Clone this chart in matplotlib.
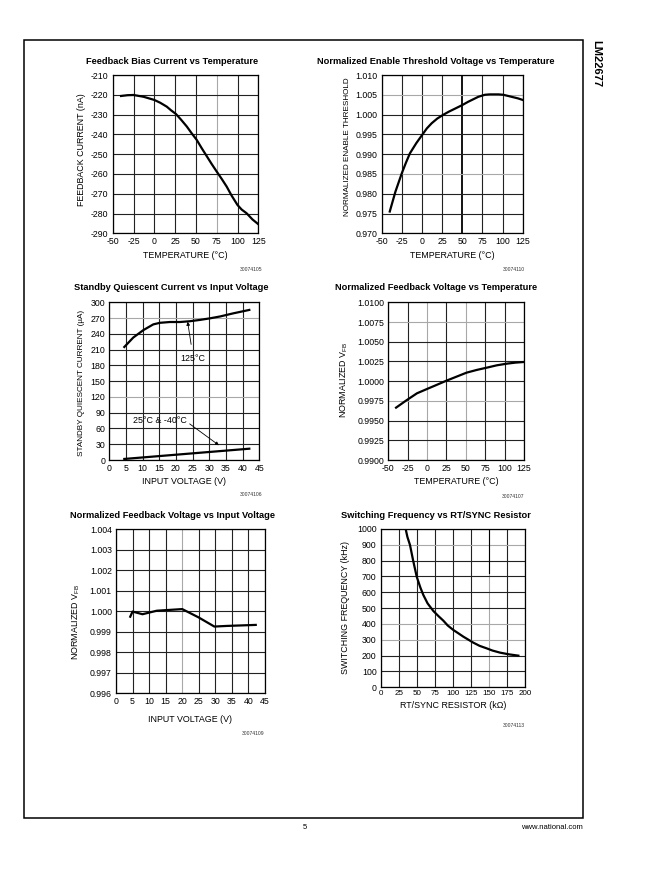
import matplotlib
matplotlib.use("Agg")
import matplotlib.pyplot as plt
from matplotlib.patches import Rectangle
import numpy as np

plt.rcParams['font.family'] = ['Liberation Sans', 'DejaVu Sans']
plt.rcParams['mathtext.fontset'] = 'custom'
plt.rcParams['mathtext.rm'] = 'Liberation Sans'
plt.rcParams['axes.unicode_minus'] = False

# ---------------- data ----------------
fb_temp = [-40, -32, -25, -13, 0, 7, 15, 20, 26, 32, 39, 45, 51, 57, 63, 69, 75,
           81, 87, 93, 100, 105, 111, 118, 125]
fb_current = [-220.6, -220.2, -220.1, -221.0, -222.6, -224.0, -226.0, -227.8, -229.7,
              -232.5, -236.0, -239.5, -242.8, -247.0, -251.0, -255.0, -258.8,
              -262.5, -266.4, -271.0, -275.7, -278.0, -279.9, -283.0, -285.4]

en_temp = [-40, -33, -25, -20, -15, -7, 0, 6, 12, 19, 26, 33, 39, 45, 50, 57, 64,
           70, 78, 84, 89, 95, 101, 107, 113, 119, 125]
en_thresh = [0.9755, 0.9805, 0.9852, 0.9878, 0.9902, 0.9928, 0.9948, 0.9965, 0.9978,
             0.9990, 0.9999, 1.0007, 1.0013, 1.0019, 1.0024, 1.0032, 1.0039,
             1.0045, 1.0050, 1.0051, 1.0051, 1.0051, 1.0050, 1.0047, 1.0044,
             1.0041, 1.0037]

sq_vin_125 = [4.5, 7.2, 10.2, 13.2, 15.2, 18.2, 21.2, 24.2, 27.2, 30.2, 33.2, 37.2, 42.0]
sq_i_125 = [215, 233, 247, 258, 261, 262.5, 262.5, 264, 266.5, 269.5, 273, 279, 285.5]
sq_vin_25 = [4.5, 42.0]
sq_i_25 = [2, 21.5]

vfb_temp = [-40, -26, -13, 0, 12, 25, 38, 51, 64, 77, 90, 103, 114, 125]
vfb_norm = [0.99664, 0.99761, 0.99846, 0.99901, 0.99951, 1.00006, 1.00057,
            1.00108, 1.00142, 1.00171, 1.00201, 1.00222, 1.00235, 1.00243]

vin_v = [4.3, 5.0, 8.0, 12.3, 16.1, 20.0, 24.9, 29.7, 33.4, 42.2]
vin_norm = [0.99973, 0.99998, 0.99985, 1.00002, 1.00006, 1.00010, 0.99970,
            0.99925, 0.99928, 0.99933]

rt_k = [34.6, 37, 40.6, 45, 49.9, 55, 59.1, 65, 73, 80, 86.8, 93, 100.7, 108,
        114.5, 128.4, 137, 146.9, 155, 165.4, 178, 190.8]
fsw_khz = [1000, 950, 899, 800, 699, 630, 583, 530, 482, 450, 421, 390, 362, 340,
           320, 282, 262, 246, 232, 219, 208, 200]

W, H = 651, 872
fig = plt.figure(figsize=(W / 100, H / 100), dpi=100)

def add_ax(l, t, r, b):
    ax = fig.add_axes([l / W, 1 - b / H, (r - l) / W, (b - t) / H])
    ax._px = (l, t, r, b)
    return ax

TFS = 6.7
LFS = 6.4
KFS = 6.3

def style(ax, xlim, ylim, xticks, yticks, xlab, ylab, title, title_pos, ylab_pos,
          xfmt=None, yfmt=None, gray_x=(), gray_y=(), ylab_fs=LFS):
    ax.set_xlim(*xlim)
    ax.set_ylim(*ylim)
    ax.set_xticks(xticks)
    ax.set_yticks(yticks)
    if xfmt:
        ax.set_xticklabels([xfmt.format(v) for v in xticks])
    if yfmt:
        ax.set_yticklabels([yfmt.format(v) for v in yticks])
    ax.tick_params(length=0, pad=3, labelsize=KFS)
    ax.grid(True, color='#222222', linewidth=0.8)
    ax.set_axisbelow(True)
    for v, gl in zip(xticks, ax.get_xgridlines()):
        if v in gray_x:
            gl.set_color('#a8a8a8')
    for v, gl in zip(yticks, ax.get_ygridlines()):
        if v in gray_y:
            gl.set_color('#a8a8a8')
    for s in ax.spines.values():
        s.set_linewidth(0.9)
    ax.set_xlabel(xlab, fontsize=LFS, labelpad=3)
    ax.set_ylabel(ylab, fontsize=ylab_fs)
    l, t, r, b = ax._px
    ax.yaxis.set_label_coords((ylab_pos[0] + 3.5 - l) / (r - l),
                              (b - ylab_pos[1]) / (b - t))
    fig.text(title_pos[0] / W, 1 - title_pos[1] / H, title, fontsize=TFS,
             fontweight='bold', ha='center', va='center')

LW = 1.6

# Chart 1
ax1 = add_ax(112.7, 75, 258.3, 233.3)
ax1.plot(fb_temp, fb_current, color='black', lw=LW)
style(ax1, (-50, 125), (-290, -210), list(range(-50, 126, 25)), list(range(-290, -209, 10)),
      'TEMPERATURE (°C)', 'FEEDBACK CURRENT (nA)', 'Feedback Bias Current vs Temperature',
      (171.7, 61), (83, 150), gray_x=(75,))

# Chart 2
ax2 = add_ax(381.7, 75, 522.7, 233.3)
ax2.plot(en_temp, en_thresh, color='black', lw=LW)
yt2 = [0.970, 0.975, 0.980, 0.985, 0.990, 0.995, 1.000, 1.005, 1.010]
style(ax2, (-50, 125), (0.970, 1.010), list(range(-50, 126, 25)), yt2,
      'TEMPERATURE (°C)', 'NORMALIZED ENABLE THRESHOLD',
      'Normalized Enable Threshold Voltage vs Temperature', (436, 61), (347.7, 147),
      yfmt='{:.3f}', gray_y=(1.005, 0.985), ylab_fs=5.9)
for v, gl in zip(range(-50, 126, 25), ax2.get_xgridlines()):
    if v == 50:
        gl.set_color('black')
        gl.set_linewidth(1.3)

# Chart 3
ax3 = add_ax(109.3, 302.3, 259.3, 460)
ax3.plot(sq_vin_125, sq_i_125, color='black', lw=LW)
ax3.plot(sq_vin_25, sq_i_25, color='black', lw=LW)
style(ax3, (0, 45), (0, 300), list(range(0, 46, 5)), list(range(0, 301, 30)),
      'INPUT VOLTAGE (V)', 'STANDBY QUIESCENT CURRENT (µA)',
      'Standby Quiescent Current vs Input Voltage', (170.8, 287.5), (81.7, 383),
      gray_y=(270, 120), ylab_fs=5.9)
ax3.annotate('125°C', xy=(23.5, 263), xytext=(25.2, 193), fontsize=LFS,
             ha='center', va='center',
             arrowprops=dict(arrowstyle='-|>', color='black', lw=0.6,
                             mutation_scale=5, shrinkA=5, shrinkB=0))
ax3.annotate('25°C & -40°C', xy=(32.9, 28), xytext=(15.2, 76), fontsize=LFS,
             ha='center', va='center',
             arrowprops=dict(arrowstyle='-|>', color='black', lw=0.6,
                             mutation_scale=5, shrinkA=0, shrinkB=0,
                             relpos=(1.0, 0.3)))

# Chart 4
ax4 = add_ax(388.3, 302.3, 524, 460)
ax4.plot(vfb_temp, vfb_norm, color='black', lw=LW)
yt4 = [0.9900, 0.9925, 0.9950, 0.9975, 1.0000, 1.0025, 1.0050, 1.0075, 1.0100]
style(ax4, (-50, 125), (0.99, 1.01), list(range(-50, 126, 25)), yt4,
      'TEMPERATURE (°C)', 'NORMALIZED V$_{\\rm FB}$',
      'Normalized Feedback Voltage vs Temperature', (436.2, 287.5), (346.7, 380),
      yfmt='{:.4f}', gray_x=(0, 50), gray_y=(1.0075, 0.9975))

# Chart 5
ax5 = add_ax(116, 529, 265, 693.3)
ax5.plot(vin_v, vin_norm, color='black', lw=LW)
yt5 = [0.996, 0.997, 0.998, 0.999, 1.000, 1.001, 1.002, 1.003, 1.004]
style(ax5, (0, 45), (0.996, 1.004), list(range(0, 46, 5)), yt5,
      'INPUT VOLTAGE (V)', 'NORMALIZED V$_{\\rm FB}$',
      'Normalized Feedback Voltage vs Input Voltage', (172.2, 515), (79, 622),
      yfmt='{:.3f}', gray_x=(20,))
ax5.xaxis.labelpad = 6

# Chart 6
ax6 = add_ax(380.7, 529, 525, 687.3)
ax6.plot(rt_k, fsw_khz, color='black', lw=LW)
style(ax6, (0, 200), (0, 1000), list(range(0, 201, 25)), list(range(0, 1001, 100)),
      'RT/SYNC RESISTOR (kΩ)', 'SWITCHING FREQUENCY (kHz)',
      'Switching Frequency vs RT/SYNC Resistor', (435.7, 515), (346, 607),
      gray_x=(150,), gray_y=(900, 400, 300))
ax6.axvline(150, ymin=0.72, ymax=1.0, color='black', lw=0.8)
ax6.tick_params(axis='x', pad=2, labelsize=5.8)

# figure codes
codes = [('30074105', 262, 269.3), ('30074110', 525, 269.3), ('30074106', 262, 495),
         ('30074107', 524, 496), ('30074109', 264, 733.3), ('30074113', 525, 725.7)]
for txt, x, y in codes:
    fig.text(x / W, 1 - y / H, txt, fontsize=3.6, ha='right', va='center', color='#333333')

# page border and footer
fig.add_artist(Rectangle((24 / W, 1 - 818 / H), (583.3 - 24) / W, (818 - 40) / H,
                         transform=fig.transFigure, fill=False, lw=1.1, ec='black'))
fig.text(305 / W, 1 - 827 / H, '5', fontsize=5.5, ha='center', va='center')
fig.text(583 / W, 1 - 827 / H, 'www.national.com', fontsize=5.5, ha='right', va='center')
fig.text(596 / W, 1 - 40 / H, 'LM22677', fontsize=8, fontweight='bold', rotation=-90,
         ha='center', va='top')

fig.savefig('out.png', dpi=100)
